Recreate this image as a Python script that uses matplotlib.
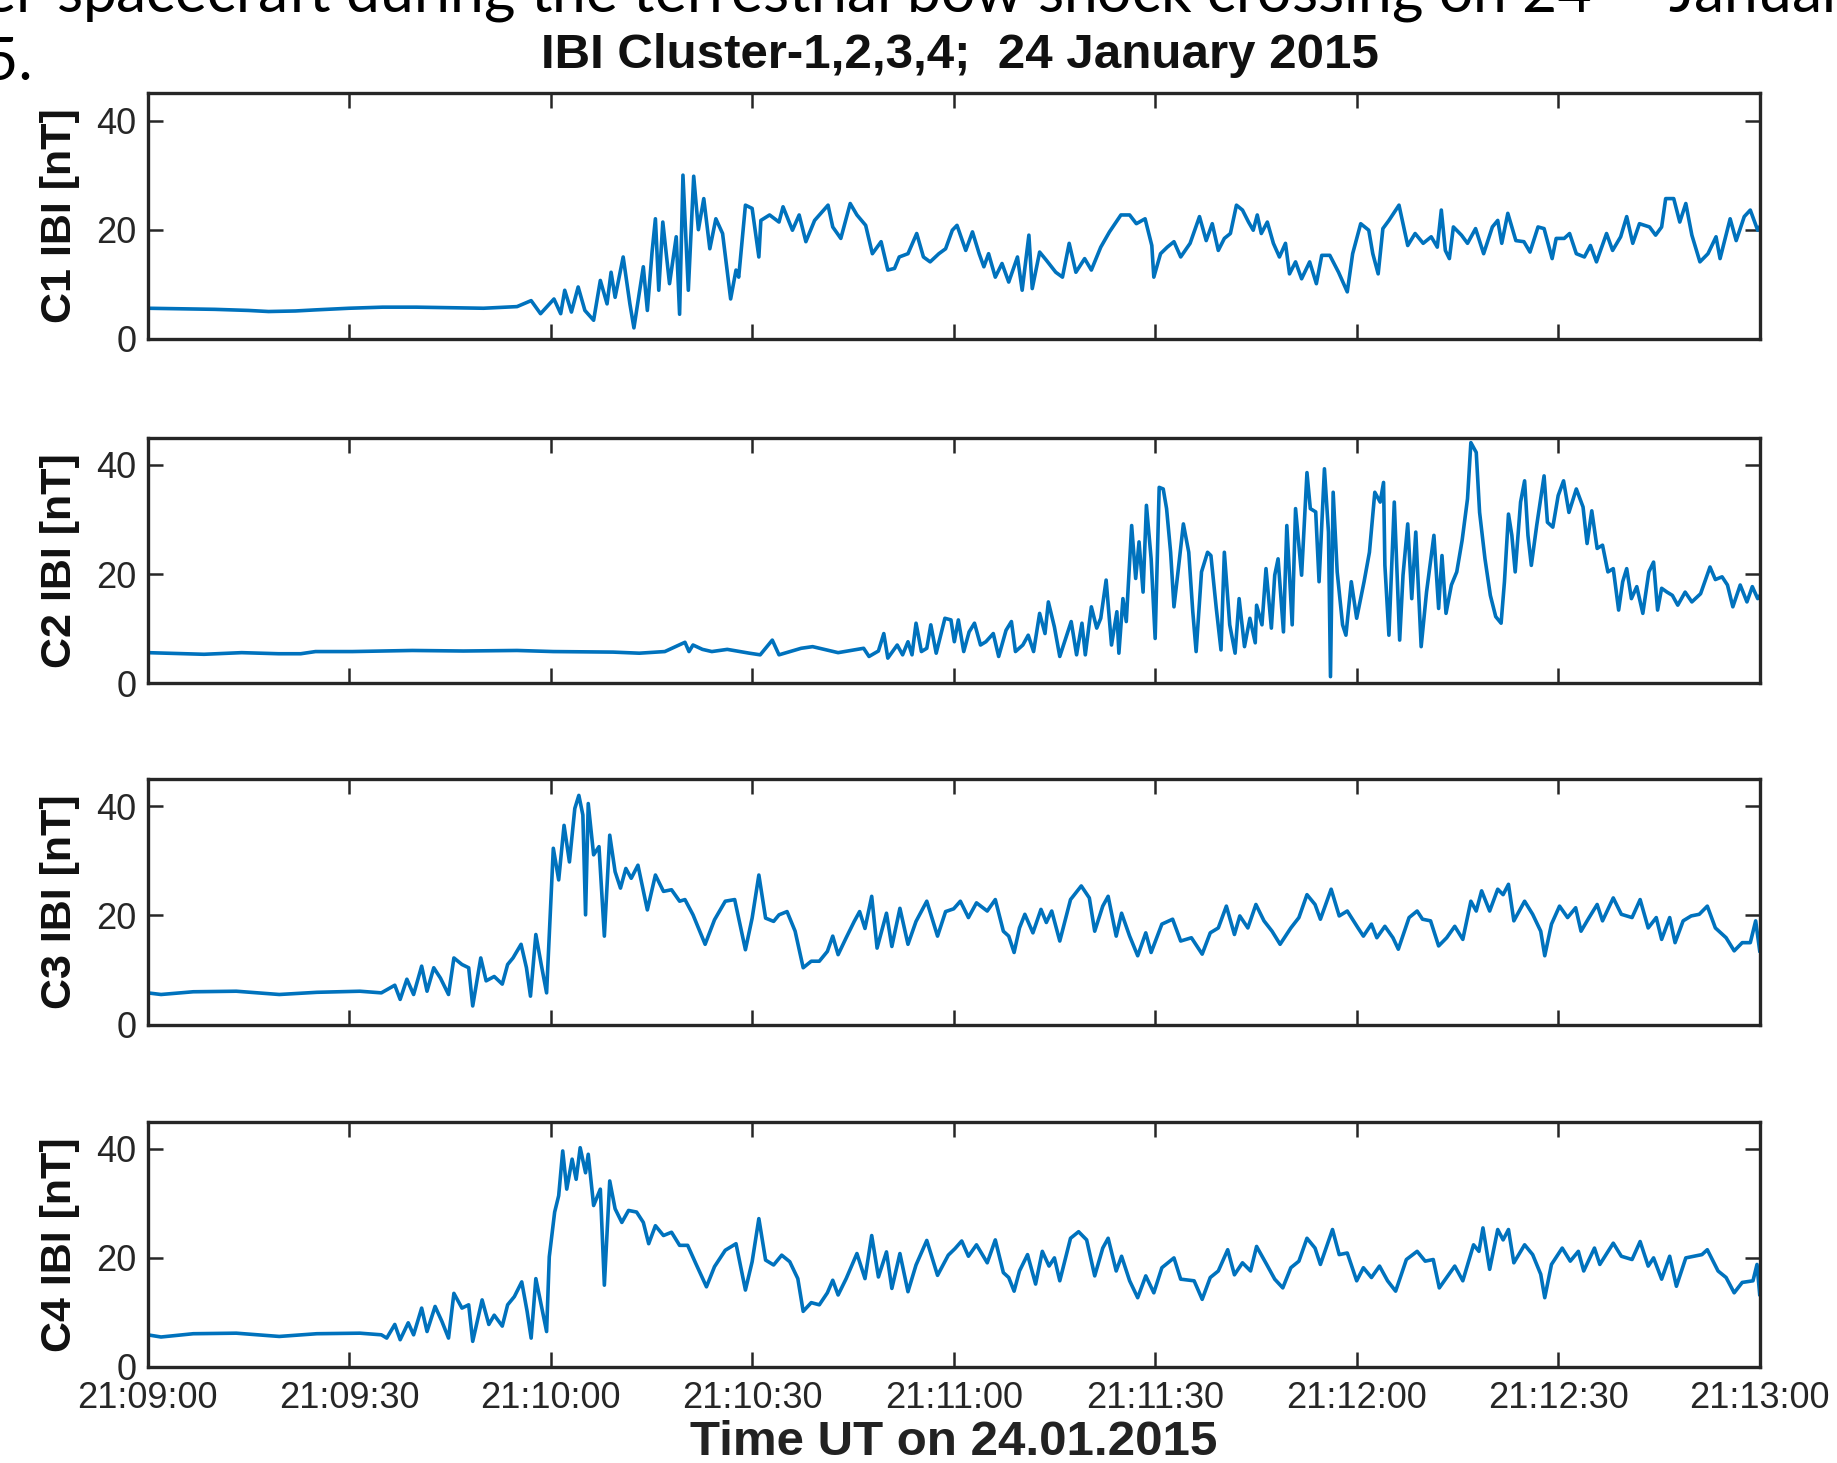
import numpy as np
import matplotlib.pyplot as plt
from matplotlib.ticker import FuncFormatter

plt.rcParams['font.family'] = ['Liberation Sans', 'DejaVu Sans']

# time in seconds after 21:09:00 UT, |B| in nT
c1_t = [
    0, 5, 10, 15, 18, 22, 25, 30, 35, 40,
    45, 50, 55, 57.1, 58.5, 60.5, 61.5, 62.1, 63.1, 64.1,
    65.1, 66.4, 67.4, 68.4, 69, 69.6, 70.8, 71.8, 72.4, 73.8,
    74.4, 75.1, 75.6, 76.1, 76.7, 77.7, 78.7, 79.2, 79.7, 80.5,
    81.3, 82, 82.8, 83.7, 84.6, 85.6, 86.8, 87.6, 88, 89,
    90, 91, 91.3, 92.6, 94, 94.6, 96, 97, 98, 99.3,
    101.3, 102, 103.2, 104.6, 105.6, 106.9, 107.9, 109.2, 110.2, 111.2,
    111.9, 113.2, 114.5, 115.5, 116.5, 117.8, 118.8, 119.8, 120.5, 121.8,
    122.8, 123.8, 124.5, 125.2, 126.2, 127.2, 128.2, 129.5, 130.2, 131.2,
    131.7, 132.8, 133.8, 135.2, 136.2, 137.2, 138.2, 139.5, 140.5, 141.9,
    143.2, 144.9, 146.2, 147.2, 148.5, 149.5, 149.8, 150.8, 151.8, 152.8,
    153.8, 155.2, 156.6, 157.6, 158.5, 159.4, 160.3, 161.2, 162.1, 163,
    163.9, 164.6, 165.2, 165.8, 166.7, 167.6, 168.5, 169.4, 170, 170.9,
    171.8, 173, 174, 174.8, 176, 177.3, 178.6, 179.4, 180.6, 181.8,
    182.4, 183.2, 183.9, 184.8, 186.3, 187.6, 188.7, 189.9, 191.1, 192,
    192.6, 193.2, 193.8, 194.4, 195.6, 196.5, 197.7, 198.9, 200.2, 201,
    201.6, 202.5, 203.7, 204.9, 205.8, 207, 207.9, 209.1, 209.7, 210.9,
    211.7, 212.7, 213.9, 214.8, 215.7, 217.2, 218.1, 219.3, 220.2, 221.1,
    222.1, 223.6, 224.5, 225.4, 226, 227.2, 228.1, 229, 229.9, 231.1,
    232.3, 233.5, 234.1, 235.6, 236.5, 237.7, 238.6, 239.7, 240,
]
c1_b = [
    5.6, 5.5, 5.4, 5.2, 5.0, 5.1, 5.3, 5.6, 5.8, 5.8,
    5.7, 5.6, 5.9, 7.0, 4.6, 7.3, 4.6, 8.9, 4.9, 9.5,
    5.2, 3.4, 10.7, 6.4, 12.2, 7.6, 15.0, 6.4, 2.0, 13.2,
    5.2, 15.9, 22.0, 8.9, 21.4, 10.1, 18.7, 4.5, 30.0, 8.9,
    29.8, 20.0, 25.7, 16.5, 22.0, 19.3, 7.3, 12.6, 11.3, 24.5,
    23.9, 15.0, 21.7, 22.7, 21.4, 24.2, 19.9, 22.7, 17.8, 21.7,
    24.5, 20.5, 18.4, 24.8, 22.7, 20.8, 15.6, 17.8, 12.6, 12.9,
    15.0, 15.6, 19.3, 15.0, 14.1, 15.6, 16.5, 19.9, 20.8, 16.2,
    19.6, 15.6, 13.2, 15.6, 11.3, 13.8, 10.4, 15.0, 8.9, 19.0,
    9.2, 15.9, 14.4, 12.2, 11.3, 17.5, 12.2, 14.7, 12.6, 16.8,
    19.6, 22.7, 22.7, 21.1, 22.0, 17.1, 11.3, 15.6, 16.8, 17.8,
    15.0, 17.5, 22.4, 18.0, 21.1, 16.2, 18.4, 19.3, 24.5, 23.6,
    21.4, 19.9, 22.7, 19.3, 21.4, 17.5, 15.0, 17.5, 11.9, 14.1,
    11.0, 14.1, 10.1, 15.3, 15.3, 12.2, 8.6, 15.6, 21.1, 19.9,
    15.6, 11.9, 20.2, 21.7, 24.5, 17.1, 19.3, 17.5, 18.7, 16.8,
    23.6, 16.2, 14.7, 20.5, 19.0, 17.5, 20.2, 15.6, 20.5, 21.7,
    17.5, 23.0, 18.0, 17.8, 15.9, 20.5, 20.2, 14.7, 18.4, 18.4,
    19.3, 15.6, 15.0, 17.1, 14.1, 19.3, 16.2, 18.7, 22.4, 17.5,
    21.1, 20.5, 19.0, 20.5, 25.7, 25.7, 21.4, 24.8, 19.0, 14.1,
    15.6, 18.7, 14.7, 22.0, 18.0, 22.4, 23.6, 19.9, 20.5,
]

c2_t = [
    0, 8.4, 14, 19.5, 22.8, 25, 30.5, 39.4, 47, 55,
    60.4, 69.3, 73.2, 77, 80, 80.6, 81.2, 82.6, 84, 86.3,
    89.6, 91.2, 93, 94, 97.3, 99, 102.8, 106.6, 107.4, 108.8,
    109.6, 110.2, 111.6, 112.4, 113.2, 113.8, 114.4, 115.2, 116, 116.6,
    117.4, 118.7, 119.6, 120.1, 120.7, 121.5, 122.3, 123.1, 124, 124.8,
    125.9, 126.7, 127.8, 128.6, 129.2, 130.3, 131.1, 131.9, 132.8, 133.6,
    134.1, 135, 135.8, 136.6, 137.5, 138.3, 139.1, 139.6, 140.5, 141.3,
    141.9, 142.7, 143.5, 144.3, 144.6, 145.2, 145.7, 146.5, 147.1, 147.6,
    148.2, 148.7, 149.4, 150, 150.6, 151.2, 151.7, 152.3, 152.8, 153.4,
    154.2, 155, 155.6, 156.1, 156.9, 157.8, 158.3, 159.1, 159.8, 160.3,
    161.1, 161.9, 162.5, 163.3, 164.1, 164.9, 165.1, 165.9, 166.5, 167.3,
    167.8, 168.3, 169.1, 169.6, 170.4, 170.9, 171.8, 172.6, 173.1, 173.9,
    174.4, 175.2, 175.8, 176.1, 176.5, 177.1, 177.9, 178.4, 179.2, 180,
    181.1, 181.9, 182.7, 183.5, 184, 184.2, 184.8, 185.6, 186.4, 186.9,
    187.6, 188.2, 188.8, 189.6, 190.4, 191.5, 192.2, 192.7, 193.3, 194.1,
    194.9, 195.7, 196.5, 197, 197.8, 198.3, 199.1, 199.9, 200.7, 201.5,
    202, 202.6, 203.1, 203.6, 204.4, 205, 205.5, 206, 206.8, 207.9,
    208.4, 209.2, 210, 210.8, 211.6, 212.7, 213.7, 214.3, 215, 215.8,
    216.6, 217.4, 218.2, 219, 219.6, 220.2, 220.9, 221.7, 222.6, 223.5,
    224.2, 224.8, 225.4, 226.2, 227, 227.8, 228.9, 229.9, 231.2, 232.6,
    233.4, 234.4, 235.2, 236, 237.1, 238.1, 238.9, 239.7, 240,
]
c2_b = [
    5.6, 5.3, 5.6, 5.4, 5.4, 5.8, 5.8, 6.0, 5.9, 6.0,
    5.8, 5.7, 5.5, 5.8, 7.5, 5.8, 7.0, 6.2, 5.8, 6.2,
    5.5, 5.2, 7.9, 5.2, 6.4, 6.7, 5.6, 6.4, 4.9, 5.9,
    9.1, 4.6, 7.0, 5.2, 7.6, 5.2, 11.0, 5.8, 6.4, 10.7,
    5.5, 11.9, 11.6, 7.6, 11.6, 5.8, 9.4, 11.0, 7.0, 7.6,
    9.1, 4.9, 9.7, 11.3, 5.8, 7.0, 8.8, 5.8, 12.8, 9.1,
    14.9, 10.3, 4.9, 7.9, 11.3, 5.2, 11.0, 5.2, 14.0, 10.1,
    11.9, 18.9, 7.0, 13.1, 5.5, 15.5, 11.3, 28.9, 19.2, 25.9,
    16.7, 32.6, 22.8, 8.2, 35.9, 35.6, 32.0, 24.0, 14.0, 20.4,
    29.2, 24.0, 13.1, 5.8, 20.4, 24.0, 23.4, 13.7, 6.1, 24.0,
    10.7, 5.5, 15.5, 6.7, 11.9, 7.4, 14.3, 10.7, 21.0, 10.1,
    19.8, 22.8, 9.4, 28.9, 10.7, 32.0, 19.8, 38.6, 32.0, 31.4,
    18.6, 39.3, 27.7, 1.2, 35.0, 20.4, 10.7, 8.8, 18.6, 11.9,
    18.6, 24.0, 35.0, 33.2, 36.8, 21.6, 8.8, 33.2, 7.9, 19.8,
    29.2, 15.5, 27.7, 6.7, 16.7, 27.1, 13.7, 23.4, 12.8, 18.0,
    20.4, 26.2, 33.8, 44.1, 42.3, 31.3, 22.8, 16.1, 12.2, 11.0,
    18.6, 31.0, 27.1, 20.4, 33.2, 37.1, 27.1, 21.6, 28.9, 38.0,
    29.5, 28.6, 34.4, 37.1, 31.3, 35.6, 32.3, 25.6, 31.6, 24.7,
    25.3, 20.4, 21.0, 13.4, 18.6, 21.0, 15.5, 17.7, 12.8, 20.4,
    22.2, 13.4, 17.4, 16.7, 16.1, 14.3, 16.7, 14.9, 16.4, 21.3,
    19.0, 19.5, 18.0, 14.0, 18.0, 14.9, 17.7, 15.5, 16.0,
]

c3_t = [
    0, 2, 6.8, 13.2, 19.6, 25.2, 31.6, 34.8, 36.8, 37.6,
    38.6, 39.6, 40.8, 41.6, 42.6, 43.6, 44.8, 45.6, 46.8, 47.8,
    48.4, 49.6, 50.4, 51.6, 52.8, 53.6, 54.4, 55.6, 56.4, 57,
    57.8, 58.6, 59.4, 60.4, 61.2, 62, 62.8, 63.6, 64.2, 64.8,
    65.2, 65.6, 66.4, 67.2, 68, 68.8, 69.6, 70.4, 71.2, 72,
    73, 74.4, 75.6, 76.8, 78, 79.2, 80, 81.2, 83, 84.4,
    86, 87.4, 89, 90, 91, 92, 93.2, 94, 95.2, 96.4,
    97.6, 98.8, 100, 101.2, 102, 102.8, 104, 105.2, 106, 106.8,
    107.8, 108.6, 110, 110.8, 112, 113.2, 114.4, 116, 117.6, 118.8,
    120, 121, 122.2, 123.4, 125, 126.2, 127.4, 128.2, 129, 129.8,
    130.6, 131.8, 133, 133.8, 134.6, 135.8, 137.4, 139, 140.2, 141,
    142.2, 143, 144.2, 145, 146.2, 147.4, 148.6, 149.4, 151, 152.6,
    153.8, 155.4, 157, 158.2, 159.4, 160.6, 161.8, 162.6, 163.8, 165,
    166.2, 167.4, 168.6, 170.2, 171.4, 172.6, 173.8, 174.6, 176.2, 177.4,
    178.6, 180.2, 181, 182.2, 183, 184.2, 185.4, 186.2, 187.8, 189,
    189.8, 191, 192.2, 193.4, 194.6, 195.8, 197, 197.8, 198.6, 199.8,
    201, 201.8, 202.6, 203.4, 205, 206.2, 207.4, 208, 209, 210.2,
    211.4, 212.6, 213.4, 214.6, 215.8, 216.6, 218.2, 219.4, 221, 222.2,
    223.4, 224.6, 225.4, 226.6, 227.4, 228.6, 229.8, 231, 232.2, 233.4,
    235, 236.2, 237.4, 238.6, 239.4, 240,
]
c3_b = [
    5.8, 5.5, 6.0, 6.1, 5.5, 5.9, 6.1, 5.8, 7.2, 4.6,
    8.3, 5.5, 10.7, 6.1, 10.4, 8.5, 5.5, 12.2, 11.0, 10.4,
    3.4, 12.2, 8.0, 8.8, 7.4, 11.0, 12.2, 14.7, 10.4, 5.2,
    16.5, 11.0, 5.8, 32.3, 26.5, 36.5, 29.8, 39.6, 42.0, 38.4,
    20.1, 40.5, 31.1, 32.6, 16.2, 34.7, 28.0, 25.0, 28.6, 26.8,
    29.2, 21.0, 27.4, 24.4, 24.7, 22.6, 22.9, 20.1, 14.7, 19.2,
    22.6, 22.9, 13.7, 19.5, 27.4, 19.5, 18.9, 20.1, 20.7, 17.1,
    10.4, 11.6, 11.6, 13.4, 16.2, 12.8, 15.9, 18.9, 20.7, 17.6,
    23.5, 14.0, 20.4, 14.3, 21.3, 14.7, 18.9, 22.6, 16.2, 20.7,
    21.2, 22.6, 19.6, 22.3, 20.8, 22.9, 17.1, 16.2, 13.2, 17.7,
    20.2, 16.8, 21.1, 18.7, 20.8, 15.3, 22.9, 25.4, 23.2, 17.1,
    21.7, 23.5, 16.2, 20.4, 16.2, 12.6, 16.8, 13.2, 18.4, 19.3,
    15.3, 15.9, 12.9, 16.8, 17.7, 21.7, 16.5, 19.9, 17.7, 22.0,
    19.0, 17.1, 14.7, 17.7, 19.6, 23.8, 22.0, 19.3, 24.8, 19.9,
    20.8, 17.7, 16.2, 18.4, 15.9, 18.0, 15.9, 13.8, 19.6, 20.8,
    19.3, 19.0, 14.4, 15.9, 18.0, 15.6, 22.6, 20.8, 24.5, 20.8,
    24.8, 23.8, 25.7, 19.0, 22.6, 20.2, 17.1, 12.6, 18.4, 21.7,
    19.6, 21.4, 17.1, 19.6, 22.0, 19.0, 23.2, 20.2, 19.6, 22.9,
    17.7, 19.6, 15.6, 19.6, 15.0, 19.0, 19.9, 20.2, 21.7, 17.7,
    15.9, 13.5, 15.0, 15.0, 19.0, 13.5,
]

c4_t = [
    0, 2, 6.8, 13.2, 19.6, 25.2, 31.6, 34.8, 35.6, 36.8,
    37.6, 38.8, 39.6, 40.8, 41.6, 42.8, 43.8, 44.8, 45.6, 46.8,
    47.8, 48.4, 49.8, 50.8, 51.6, 52.8, 53.6, 54.6, 55.7, 56.5,
    57.1, 57.8, 58.6, 59.4, 59.8, 60.6, 61.2, 61.8, 62.4, 63.2,
    63.8, 64.4, 65.2, 65.6, 66.4, 67.4, 68, 68.8, 69.6, 70.6,
    71.6, 72.8, 73.8, 74.6, 75.6, 76.8, 78, 79.2, 80.4, 81.6,
    83.2, 84.4, 86, 87.6, 89, 90, 91, 92, 93.2, 94.4,
    95.6, 96.8, 97.6, 98.8, 100, 101.2, 102, 102.8, 104, 105.6,
    106.8, 107.8, 108.8, 110, 110.8, 112, 113.2, 114.4, 116, 117.6,
    119.2, 120.2, 121.2, 122.2, 123.4, 125, 126.2, 127.4, 128.2, 129,
    129.8, 131, 132.2, 133.2, 134.2, 135, 135.8, 137.4, 138.6, 139.8,
    141, 142.2, 143, 144.2, 145, 146.2, 147.4, 148.6, 149.8, 151,
    152.8, 153.8, 155.8, 157, 158.2, 159.4, 160.8, 161.8, 163, 164.2,
    165.1, 166.6, 167.8, 169, 170.2, 171.4, 172.6, 173.8, 174.6, 176.4,
    177.4, 178.6, 180, 181, 182.2, 183.4, 184.6, 185.8, 187.4, 189,
    190.2, 191.4, 192.3, 193.4, 194.6, 195.8, 197.4, 198.2, 198.8, 199.8,
    201, 201.8, 202.6, 203.4, 205, 206.2, 207.4, 208, 209, 210.6,
    211.8, 213, 213.8, 215.4, 216.2, 218.2, 219.4, 221, 222.2, 223.4,
    224.2, 225.4, 226.6, 227.6, 229, 230.2, 231.4, 232.2, 233.8, 235,
    236.2, 237.4, 239, 239.6, 240,
]
c4_b = [
    5.9, 5.5, 6.1, 6.2, 5.6, 6.1, 6.2, 5.9, 5.3, 7.8,
    5.0, 8.1, 5.9, 10.8, 6.5, 11.1, 8.4, 5.3, 13.5, 10.8,
    11.4, 4.7, 12.3, 7.8, 9.5, 7.5, 11.4, 12.9, 15.6, 10.2,
    5.3, 16.2, 11.4, 6.5, 20.2, 28.4, 31.4, 39.6, 32.6, 38.1,
    34.4, 40.2, 35.6, 39.0, 29.6, 32.6, 15.0, 34.1, 29.0, 26.5,
    28.7, 28.4, 26.5, 22.6, 25.9, 24.1, 24.7, 22.3, 22.3, 19.0,
    14.7, 18.4, 21.4, 22.6, 14.1, 19.3, 27.2, 19.6, 18.7, 20.5,
    19.3, 16.2, 10.2, 11.8, 11.4, 13.6, 15.9, 13.2, 16.2, 20.8,
    16.2, 24.1, 16.5, 21.1, 14.4, 20.8, 13.8, 18.7, 23.2, 16.8,
    20.5, 21.7, 23.1, 20.3, 22.4, 19.1, 23.3, 17.3, 16.4, 13.9,
    17.6, 20.6, 15.2, 21.2, 18.5, 20.0, 15.8, 23.6, 24.8, 23.3,
    16.7, 21.8, 23.6, 17.6, 20.3, 15.8, 12.7, 16.7, 13.6, 18.2,
    20.0, 16.1, 15.8, 12.4, 16.4, 17.6, 21.5, 16.9, 19.1, 17.6,
    22.1, 18.8, 16.1, 14.5, 18.2, 19.4, 23.6, 21.8, 18.8, 25.2,
    20.6, 20.9, 15.8, 18.2, 16.4, 18.5, 15.8, 13.9, 19.7, 21.2,
    19.4, 19.7, 14.5, 16.4, 18.5, 15.8, 22.4, 21.2, 25.5, 17.9,
    25.2, 23.3, 25.2, 19.1, 22.4, 20.6, 17.0, 12.7, 18.8, 21.8,
    19.4, 21.2, 17.6, 21.8, 18.8, 22.7, 20.3, 19.7, 23.0, 18.5,
    20.0, 16.1, 20.3, 14.8, 20.0, 20.3, 20.6, 21.5, 17.6, 16.4,
    13.6, 15.5, 15.8, 18.8, 13.3,
]

y_labels = ['C1 IBI [nT]', 'C2 IBI [nT]', 'C3 IBI [nT]', 'C4 IBI [nT]']

LINE_COLOR = '#0072bd'
AXIS_COLOR = '#262626'

# figure layout (pixels of a 1837x1463 canvas)
W, H = 1837, 1463
AX_LEFT, AX_RIGHT = 147.6, 1759.7
AX_TOPS = [93.3, 437.7, 779.0, 1121.5]
AX_H = 245.5


def fmt_time(x, pos):
    s = int(round(x)) + 9 * 60
    return f'21:{s // 60:02d}:{s % 60:02d}'


fig = plt.figure(figsize=(W / 100, H / 100), dpi=100)

series = [(c1_t, c1_b), (c2_t, c2_b), (c3_t, c3_b), (c4_t, c4_b)]
for i, (t, b) in enumerate(series):
    assert len(t) == len(b)
    rect = [AX_LEFT / W, 1 - (AX_TOPS[i] + AX_H) / H, (AX_RIGHT - AX_LEFT) / W, AX_H / H]
    ax = fig.add_axes(rect)
    ax.plot(t, b, color=LINE_COLOR, lw=2.6, solid_joinstyle='round')
    ax.set_xlim(0, 240)
    ax.set_ylim(0, 45)
    ax.set_xticks(np.arange(0, 241, 30))
    ax.set_yticks([0, 20, 40])
    ax.tick_params(direction='in', length=11, width=1.8, top=True, right=True,
                   labelsize=26, colors=AXIS_COLOR)
    ax.tick_params(axis='x', pad=10)
    ax.tick_params(axis='y', pad=8)
    for sp in ax.spines.values():
        sp.set_linewidth(2.4)
        sp.set_color(AXIS_COLOR)
    if i == 3:
        ax.xaxis.set_major_formatter(FuncFormatter(fmt_time))
    else:
        ax.set_xticklabels([])
    ax.set_ylabel(y_labels[i], fontsize=31, fontweight='bold', color='#111111')
    ax.yaxis.set_label_coords((80 - AX_LEFT) / (AX_RIGHT - AX_LEFT), 0.5)

# title and common x label
fig.text(960 / W, 1 - 68 / H, 'IBI Cluster-1,2,3,4;  24 January 2015',
         ha='center', va='baseline', fontsize=35.5, fontweight='bold', color='#111111')
fig.text(953.6 / W, 1 - 1455 / H, 'Time UT on 24.01.2015',
         ha='center', va='baseline', fontsize=35.5, fontweight='bold', color='#222222')

# caption of the surrounding page, cut off at the top edge
cap_font = ['Lato', 'DejaVu Sans']
fig.text(38 / W, 1 - 12 / H, 'Cluster', ha='right', va='baseline',
         fontsize=43, family=cap_font, color='black')
fig.text(56 / W, 1 - 12 / H,
         'spacecraft during the terrestrial bow shock crossing on 24$^{\\rm th}$  January 2015.',
         ha='left', va='baseline', fontsize=43.5, family=cap_font, color='black')
fig.text(33 / W, 1 - 80 / H, '2015.', ha='right', va='baseline',
         fontsize=43, family=cap_font, color='black')

fig.savefig('out.png', dpi=100)
